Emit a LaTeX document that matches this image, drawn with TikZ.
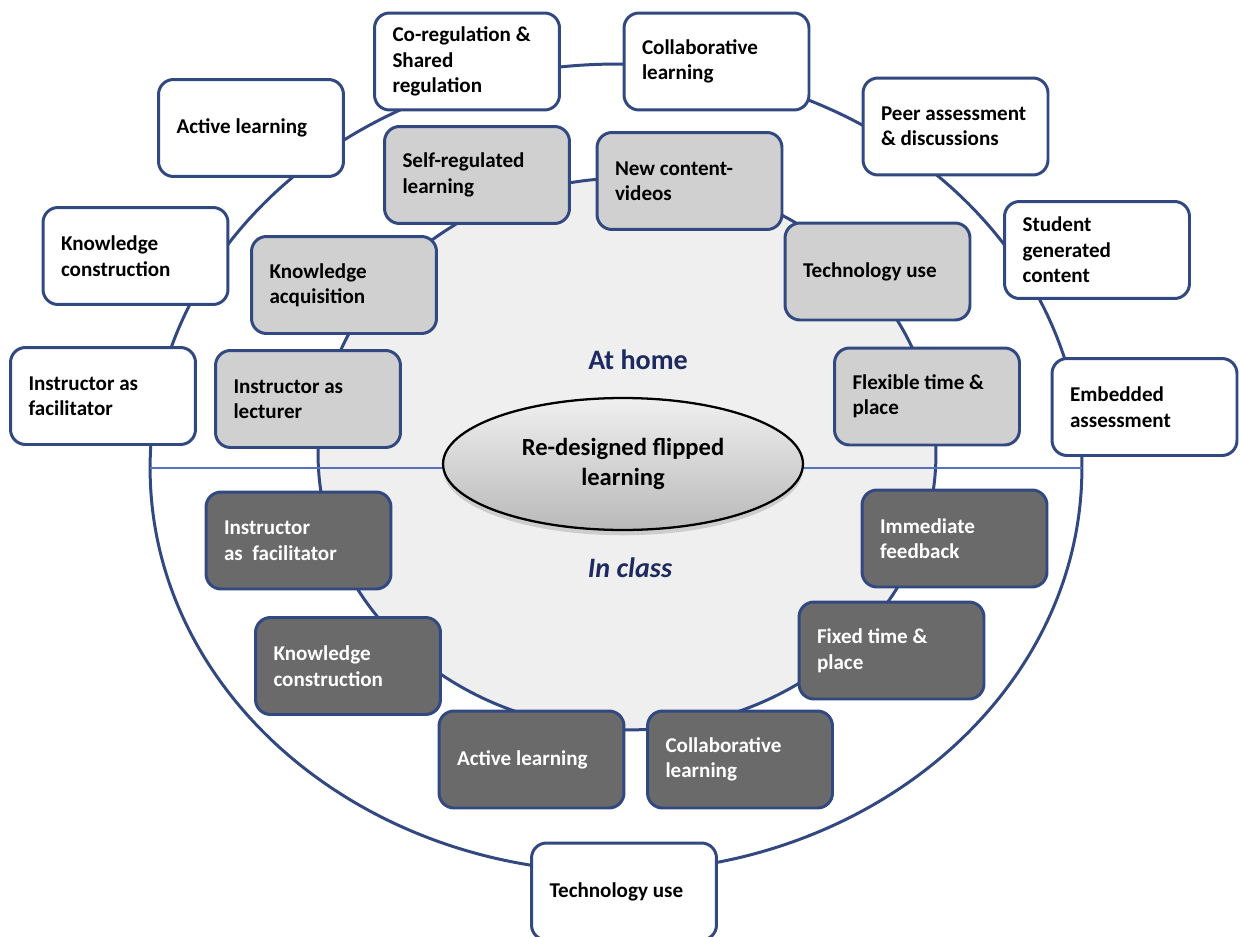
\documentclass[tikz,border=0pt]{standalone}
\usepackage{fontspec}
\setmainfont{Carlito}
\usetikzlibrary{shapes.geometric,shadows}

\definecolor{ringblue}{RGB}{50,72,128}
\definecolor{homegray}{RGB}{208,208,208}
\definecolor{classgray}{RGB}{106,106,106}
\definecolor{innergray}{RGB}{239,239,239}
\definecolor{splitblue}{RGB}{84,114,190}
\definecolor{tagblue}{RGB}{28,42,96}

\begin{document}
\begin{tikzpicture}[x=0.02cm, y=-0.02cm,
  ring/.style={draw=ringblue, line width=1.7pt},
  outerbox/.style={draw=ringblue, line width=1.7pt, rounded corners=0.3cm, fill=white,
    minimum width=3.7cm, minimum height=1.94cm, text width=2.98cm, inner xsep=0.36cm,
    align=flush left, font=\fontsize{12}{14.5}\selectfont\bfseries},
  homebox/.style={outerbox, fill=homegray},
  classbox/.style={outerbox, fill=classgray, text=white},
  splitline/.style={draw=splitblue, line width=0.8pt},
  tag/.style={text=tagblue, font=\fontsize{16}{19}\selectfont\bfseries}]

  \useasboundingbox (0,0) rectangle (1240,936);
  \fill[white] (0,0) rectangle (1240,936);

  % the two rings
  \draw[ring, fill=white] (616,468) ellipse [x radius=9.32cm, y radius=8.08cm];
  \draw[ring, fill=innergray] (627,454) ellipse [x radius=6.18cm, y radius=5.52cm];

  \node[ellipse, draw=black, line width=1.3pt, top color=gray!12, bottom color=gray!55,
    drop shadow={shadow xshift=0pt, shadow yshift=-3pt, opacity=0.3},
    minimum width=7.2cm, minimum height=2.64cm, align=center,
    font=\fontsize{14}{17}\selectfont\bfseries] (core) at (623,464) {Re-designed flipped\\learning};

  \coordinate (splitL) at (150,468);
  \coordinate (splitR) at (1082,468);
  \draw[splitline] (splitL) -- (splitL -| core.west);
  \draw[splitline] (splitR -| core.east) -- (splitR);

  \node[tag] (home) at (638,360) {At home};
  \node[tag, font=\fontsize{16}{19}\selectfont\bfseries\itshape] (class) at (630,568) {In class};

  % outer ring
  \node[outerbox] (oFac) at (103,396) {Instructor as\\facilitator};
  \node[outerbox] (oKnow) at (135.5,256) {Knowledge\\construction};
  \node[outerbox] (oAct) at (251,128) {Active learning};
  \node[outerbox] (oCoreg) at (467,61.5) {Co-regulation \&\\Shared\\regulation};
  \node[outerbox] (oColl) at (716.5,61.5) {Collaborative\\learning};
  \node[outerbox] (oPeer) at (955.5,126.5) {Peer assessment\\\& discussions};
  \node[outerbox] (oStud) at (1097,250) {Student\\generated\\content};
  \node[outerbox] (oEmb) at (1144.5,407) {Embedded\\assessment};
  \node[outerbox] (oTech) at (624,891.5) {Technology use};

  % at home
  \node[homebox] (hLect) at (308,399) {Instructor as\\lecturer};
  \node[homebox] (hAcq) at (344,285) {Knowledge\\acquisition};
  \node[homebox] (hSelf) at (477,175) {Self-regulated\\learning};
  \node[homebox] (hNew) at (689.5,181) {New content-\\videos};
  \node[homebox] (hTech) at (877.5,271.5) {Technology use};
  \node[homebox] (hFlex) at (927,396.5) {Flexible time \&\\place};

  % in class
  \node[classbox] (cFac) at (298.5,540.5) {Instructor\\as~~facilitator};
  \node[classbox] (cKnow) at (348,666) {Knowledge\\construction};
  \node[classbox] (cAct) at (531.5,759.5) {Active learning};
  \node[classbox] (cColl) at (740,759.5) {Collaborative\\learning};
  \node[classbox] (cFix) at (891.5,650.5) {Fixed time \&\\place};
  \node[classbox] (cImm) at (954.5,538.5) {Immediate\\feedback};
\end{tikzpicture}
\end{document}
